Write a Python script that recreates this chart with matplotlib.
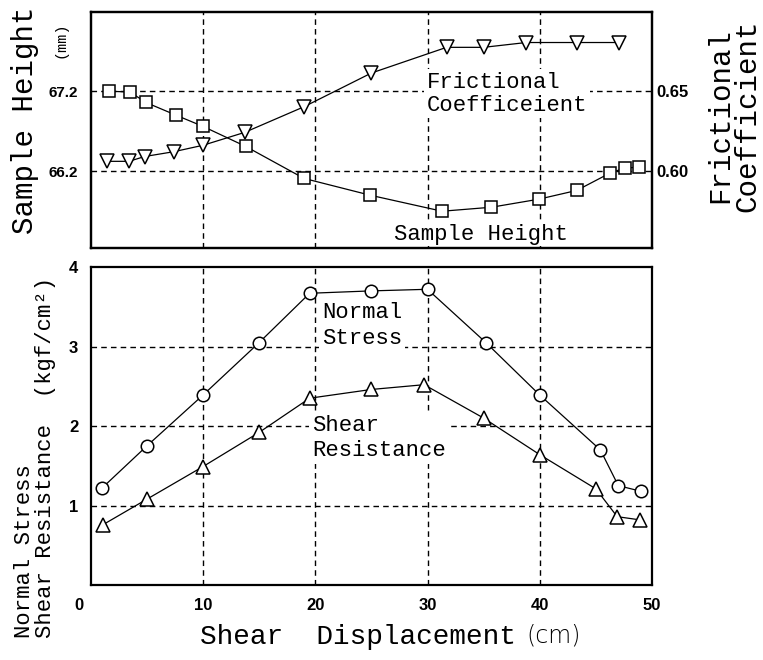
import matplotlib.pyplot as plt
from matplotlib.transforms import ScaledTranslation

mono = ['Liberation Mono', 'DejaVu Sans Mono']
sans = 'Liberation Sans'

# upper panel: sample height (mm) and frictional coefficient
height_x = [1.6, 3.5, 4.9, 7.6, 10.0, 13.8, 19.0, 24.9, 31.3, 35.7, 39.9, 43.3, 46.3, 47.6, 48.8]
height_mm = [67.20, 67.19, 67.06, 66.90, 66.76, 66.51, 66.11, 65.90, 65.70, 65.75, 65.85, 65.96, 66.18, 66.24, 66.25]
fric_x = [1.4, 3.4, 4.8, 7.4, 10.0, 13.7, 19.0, 25.0, 31.7, 35.0, 38.8, 43.3, 47.1]
fric_coef = [0.606, 0.606, 0.609, 0.612, 0.616, 0.624, 0.640, 0.661, 0.677, 0.677, 0.680, 0.680, 0.680]

# lower panel: normal stress and shear resistance (kgf/cm2)
normal_x = [1.0, 5.0, 10.0, 15.0, 19.5, 25.0, 30.0, 35.2, 40.0, 45.4, 47.0, 49.0]
normal_stress = [1.22, 1.75, 2.39, 3.05, 3.67, 3.70, 3.72, 3.05, 2.39, 1.70, 1.25, 1.18]
shear_x = [1.1, 5.0, 10.0, 15.0, 19.5, 25.0, 29.7, 35.0, 40.0, 45.0, 46.9, 48.9]
shear_res = [0.76, 1.08, 1.49, 1.92, 2.35, 2.46, 2.52, 2.10, 1.64, 1.21, 0.86, 0.82]

x_ticks = [0, 10, 20, 30, 40, 50]
height_ticks = [66.2, 67.2]
fric_ticks = [0.60, 0.65]
stress_ticks = [1, 2, 3, 4]

dash = (0, (4, 3))
box = dict(facecolor='white', edgecolor='none', pad=2)

fig = plt.figure(figsize=(7.63, 6.60), dpi=100)
ax1 = fig.add_axes([0.119, 0.6242, 0.7355, 0.3576])
ax2 = ax1.twinx()
ax3 = fig.add_axes([0.119, 0.1136, 0.7355, 0.4818])

# --- top ---
ax1.set_xlim(0, 50)
ax1.set_ylim(65.24, 68.19)
ax2.set_ylim(0.552, 0.699)
ax1.set_xticks(x_ticks[1:-1])
ax1.set_xticklabels([])
ax1.set_yticks(height_ticks)
ax1.set_yticklabels(['66.2', '67.2'], fontsize=11, fontweight='bold', family=sans)
ax2.set_yticks(fric_ticks)
ax2.set_yticklabels(['0.60', '0.65'], fontsize=12, fontweight='bold', family=sans)
ax1.grid(True, color='black', linestyle=dash, linewidth=1)
ax1.tick_params(length=0, pad=9)
ax2.tick_params(length=0, pad=3)

ax1.plot(height_x, height_mm, color='black', lw=0.9, marker='s', ms=9,
         mfc='white', mec='black', mew=1.1, zorder=3)
ax2.plot(fric_x, fric_coef, color='black', lw=0.9, marker='v', ms=10,
         mfc='white', mec='black', mew=1.1, zorder=3)

ax2.text(29.9, 0.648, 'Frictional\nCoefficeient', family=mono, fontsize=16,
         ha='left', va='center', linespacing=1.1, bbox=box, zorder=2.4)
ax2.text(27.0, 0.5605, 'Sample Height', family=mono, fontsize=16,
         ha='left', va='center', bbox=dict(facecolor='white', edgecolor='none', pad=1),
         zorder=2.4)

# --- bottom ---
ax3.set_xlim(0, 50)
ax3.set_ylim(0, 4)
ax3.set_xticks(x_ticks)
ax3.set_xticklabels([str(t) for t in x_ticks], fontsize=12, fontweight='bold', family=sans)
ax3.set_yticks(stress_ticks)
ax3.set_yticklabels([str(t) for t in stress_ticks], fontsize=12, fontweight='bold', family=sans)
ax3.tick_params(length=0, pad=9)
for t in [10, 20, 30, 40]:
    ax3.axvline(t, color='black', linestyle=dash, linewidth=1, zorder=1)
for t in [1, 2, 3]:
    ax3.axhline(t, color='black', linestyle=dash, linewidth=1, zorder=1)
first = ax3.get_xticklabels()[0]
first.set_transform(first.get_transform() + ScaledTranslation(-0.12, 0, fig.dpi_scale_trans))

ax3.plot(normal_x, normal_stress, color='black', lw=0.9, marker='o', ms=9,
         mfc='white', mec='black', mew=1.1, zorder=3)
ax3.plot(shear_x, shear_res, color='black', lw=0.9, marker='^', ms=10,
         mfc='white', mec='black', mew=1.1, zorder=3)

ax3.text(20.6, 3.26, 'Normal\nStress', family=mono, fontsize=16,
         ha='left', va='center', linespacing=1.3, bbox=box, zorder=2.4)
ax3.text(19.7, 1.85, 'Shear\nResistance', family=mono, fontsize=16,
         ha='left', va='center', linespacing=1.3, bbox=box, zorder=2.4)

for ax in (ax1, ax2, ax3):
    for s in ax.spines.values():
        s.set_linewidth(1.6)

# axis titles
fig.text(0.033, 0.818, 'Sample Height', family=mono, fontsize=21,
         rotation=90, ha='center', va='center')
fig.text(0.079, 0.94, '(mm)', family=mono, fontsize=11,
         rotation=90, ha='center', va='center')
fig.text(0.962, 0.825, 'Frictional\nCoefficient', family=mono, fontsize=21,
         rotation=90, ha='center', va='center', linespacing=0.95)
fig.text(0.046, 0.033, 'Normal Stress\nShear Resistance  (kgf/cm²)', family=mono,
         fontsize=16, rotation=90, ha='center', va='bottom',
         multialignment='left', linespacing=1.0)
fig.text(0.262, 0.035, 'Shear  Displacement', family=mono, fontsize=20,
         ha='left', va='center')
fig.text(0.69, 0.037, '(cm)', family='DejaVu Sans', fontsize=17,
         fontweight='light', ha='left', va='center')

fig.savefig('out.png', dpi=100)
